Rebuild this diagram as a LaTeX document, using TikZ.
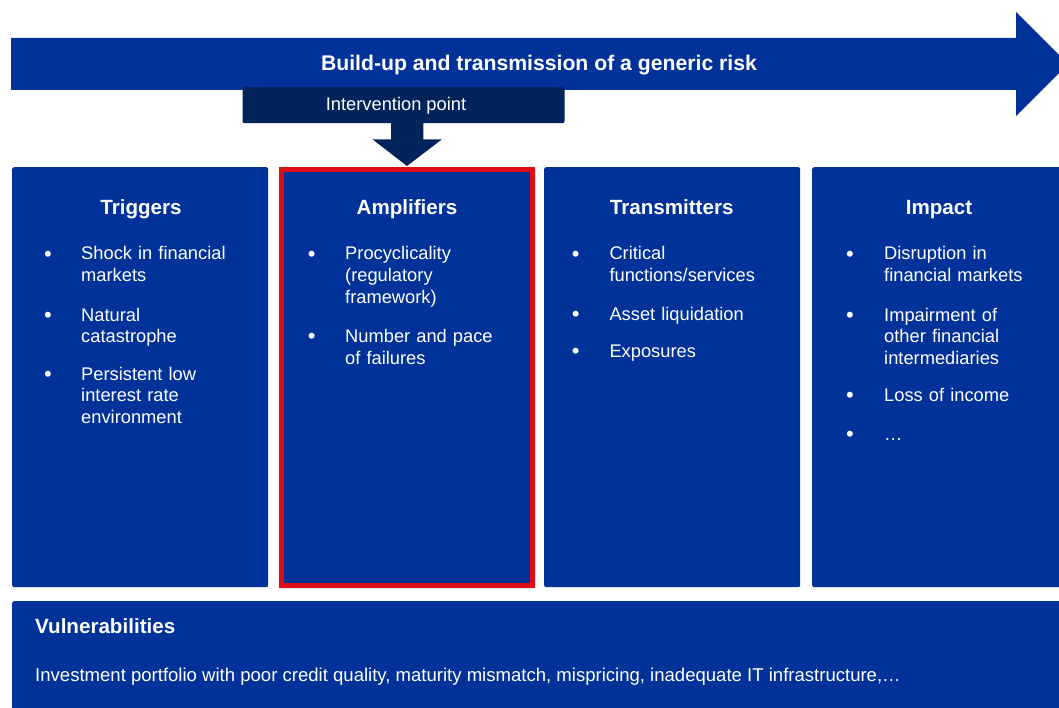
\documentclass[tikz,border=0pt]{standalone}
\usepackage{fontspec}
\setmainfont{Liberation Sans}
\definecolor{ecbblue}{RGB}{0,50,153}
\definecolor{navy}{RGB}{0,35,91}
\definecolor{hired}{RGB}{222,14,20}
\begin{document}
\begin{tikzpicture}[x=1pt,y=-1pt,
  panel/.style={fill=ecbblue, rounded corners=2pt, inner sep=0, anchor=north west},
  head/.style={text=white, font=\fontsize{20.6}{24}\selectfont\bfseries, inner sep=0, anchor=base},
  item/.style={text=white, font=\fontsize{18.3}{21.8}\selectfont, inner sep=0, anchor=base west, text width=220pt, align=left},
  bul/.style={text=white, font=\fontsize{22}{24}\selectfont, inner sep=0, anchor=base, yshift=-1.2pt}]
\useasboundingbox (0,0) rectangle (1059,708);
\clip (0,0) rectangle (1059,708);
% big arrow
\fill[ecbblue] (11,38) -- (1016,38) -- (1016,12) -- (1068,64) -- (1016,116) -- (1016,90) -- (11,90) -- cycle;
\node[text=white, font=\fontsize{21.2}{25}\selectfont\bfseries, inner sep=0, anchor=base] (title) at (539,71) {Build-up and transmission of a generic risk};
% intervention point
\node[fill=navy, rounded corners=2pt, inner sep=0, anchor=north west, minimum width=322pt, minimum height=36pt] (interv) at (242.3,87) {};
\node[text=white, font=\fontsize{18.3}{22}\selectfont, inner sep=0, anchor=base] (intervtxt) at (396,111) {Intervention point};
\fill[navy] (391,122) -- (423.3,122) -- (423.3,139.5) -- (441.7,139.5) -- (407,166) -- (372.7,139.5) -- (391,139.5) -- cycle;
% columns
\node[panel, minimum width=256pt, minimum height=420pt] (trig) at (12,167) {};
\node[panel, minimum width=256pt, minimum height=421pt] (ampl) at (279,167) {};
\node[panel, minimum width=256pt, minimum height=420pt] (trans) at (544,167) {};
\node[panel, minimum width=256pt, minimum height=420pt] (impact) at (812,167) {};
\draw[hired, line width=5pt] (281.5,169.5) rectangle (532.5,585.5);
% headers
\node[head] (h1) at (141,215) {Triggers};
\node[head] (h2) at (407,215) {Amplifiers};
\node[head] (h3) at (671.7,215) {Transmitters};
\node[head] (h4) at (939,215) {Impact};
% triggers items
\node[bul] (b11) at (48,260) {•};
\node[item] (t11) at (81,260) {Shock in financial\\markets};
\node[bul] (b12) at (48,321) {•};
\node[item] (t12) at (81,321) {Natural\\catastrophe};
\node[bul] (b13) at (48,380) {•};
\node[item] (t13) at (81,380) {Persistent low\\interest rate\\environment};
% amplifiers items
\node[bul] (b21) at (311.7,260) {•};
\node[item] (t21) at (345,260) {Procyclicality\\(regulatory\\framework)};
\node[bul] (b22) at (311.7,342.7) {•};
\node[item] (t22) at (345,342.7) {Number and pace\\of failures};
% transmitters items
\node[bul] (b31) at (575.7,260) {•};
\node[item] (t31) at (609.3,260) {Critical\\functions/services};
\node[bul] (b32) at (575.7,320) {•};
\node[item] (t32) at (609.3,320) {Asset liquidation};
\node[bul] (b33) at (575.7,357.7) {•};
\node[item] (t33) at (609.3,357.7) {Exposures};
% impact items
\node[bul] (b41) at (850,260) {•};
\node[item] (t41) at (884,260) {Disruption in\\financial markets};
\node[bul] (b42) at (850,321) {•};
\node[item] (t42) at (884,321) {Impairment of\\other financial\\intermediaries};
\node[bul] (b43) at (850,401.7) {•};
\node[item] (t43) at (884,401.7) {Loss of income};
\node[bul] (b44) at (850,440) {•};
\node[item] (t44) at (884,440) {…};
% vulnerabilities
\node[panel, minimum width=1058pt, minimum height=120pt] (vuln) at (12,601) {};
\node[text=white, font=\fontsize{20.6}{24}\selectfont\bfseries, inner sep=0, anchor=base west] (vh) at (35,633.3) {Vulnerabilities};
\node[text=white, font=\fontsize{18.55}{22}\selectfont, inner sep=0, anchor=base west] (vt) at (35,681.7) {Investment portfolio with poor credit quality, maturity mismatch, mispricing, inadequate IT infrastructure,…};
\end{tikzpicture}
\end{document}
